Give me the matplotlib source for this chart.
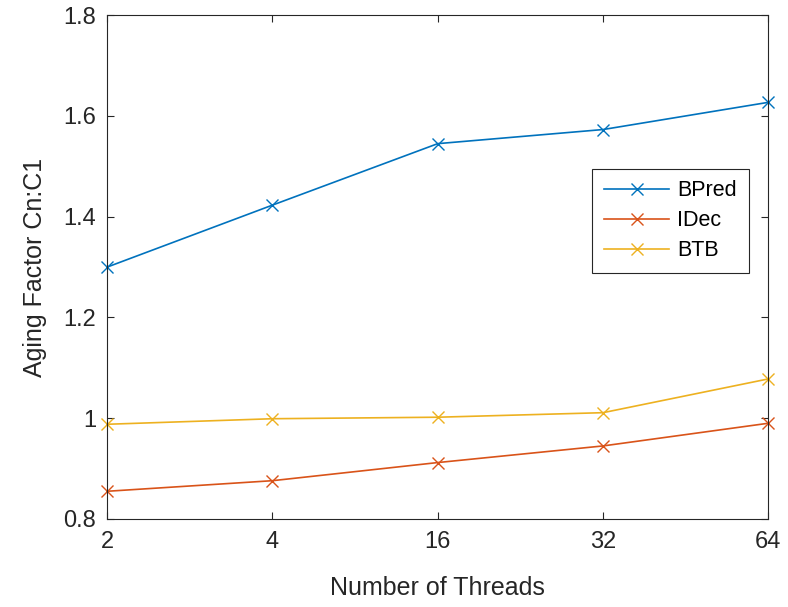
import matplotlib.pyplot as plt

threads = ["2", "4", "16", "32", "64"]
bpred = [1.300, 1.423, 1.545, 1.573, 1.627]
idec = [0.855, 0.876, 0.912, 0.945, 0.990]
btb = [0.988, 0.999, 1.002, 1.011, 1.078]

plt.rcParams['font.family'] = ['Liberation Sans', 'DejaVu Sans']

fig = plt.figure(figsize=(7.88, 6.07), dpi=100)
ax = fig.add_axes([0.136, 0.145, 0.839, 0.83])

x = range(len(threads))
ax.plot(x, bpred, 'x-', color='#0072BD', lw=1.2, ms=9, label='BPred', clip_on=False)
ax.plot(x, idec, 'x-', color='#D95319', lw=1.2, ms=9, label='IDec', clip_on=False)
ax.plot(x, btb, 'x-', color='#EDB120', lw=1.2, ms=9, label='BTB', clip_on=False)

ax.set_xlim(0, len(threads) - 1)
ax.set_ylim(0.8, 1.8)
ax.set_xticks(list(x))
ax.set_xticklabels(threads)
ax.set_yticks([0.8, 1.0, 1.2, 1.4, 1.6, 1.8])
ax.set_yticklabels(["0.8", "1", "1.2", "1.4", "1.6", "1.8"])
ax.tick_params(direction='in', top=True, right=True, labelsize=17, colors='#262626', length=5)
ax.tick_params(axis='y', pad=8)
ax.tick_params(axis='x', pad=9)
for s in ax.spines.values():
    s.set_color('#262626')
ax.set_xlabel("Number of Threads", fontsize=18, color='#262626', labelpad=16)
ax.set_ylabel("Aging Factor Cn:C1", fontsize=18, color='#262626', labelpad=12)

leg = ax.legend(loc='upper right', bbox_to_anchor=(0.987, 0.717), fontsize=15.5,
                fancybox=False, edgecolor='#262626', framealpha=1, handlelength=3.0,
                borderpad=0.55, labelspacing=0.42, handletextpad=0.4)
leg.get_frame().set_linewidth(0.8)

fig.savefig("out.png")
